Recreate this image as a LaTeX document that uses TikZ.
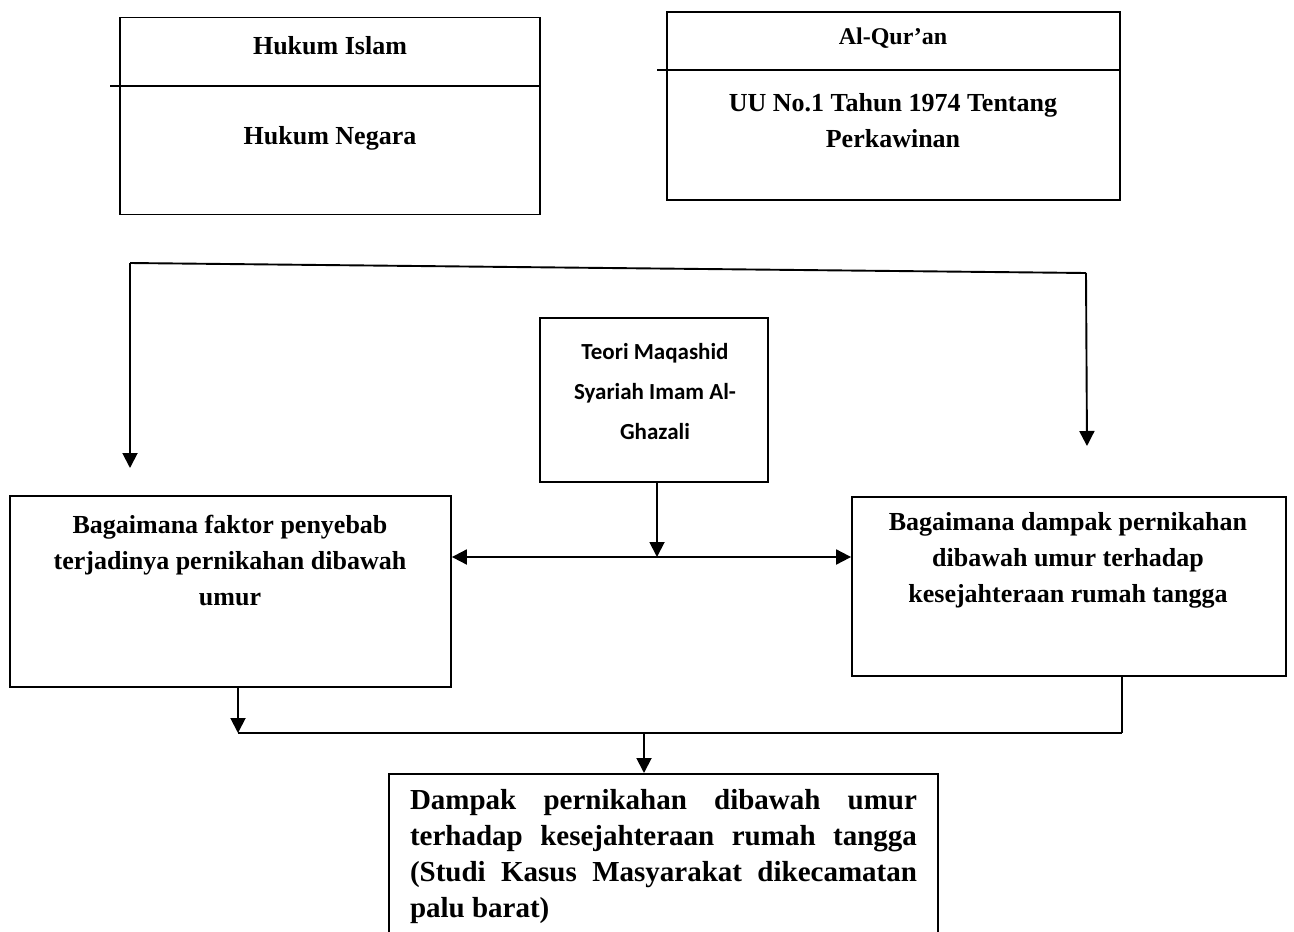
\documentclass[tikz,border=0pt]{standalone}
\usepackage{fontspec}
\setmainfont{Liberation Serif}
\newfontfamily\calibrifont{Carlito}
\usetikzlibrary{arrows.meta}
\begin{document}
\begin{tikzpicture}[x=1pt,y=-1pt,line width=1.8pt,
  >={Triangle[width=15pt,length=15pt]},
  boxx/.style={draw,rectangle,inner sep=0pt},
  txt/.style={inner sep=0pt,align=center,font=\bfseries\fontsize{26}{36}\selectfont},
  conn/.style={line width=1.9pt}]
\useasboundingbox (0,0) rectangle (1294,932);
% top boxes
\node[boxx,minimum width=420pt,minimum height=197pt] (b1) at (330,116) {};
\node[boxx,minimum width=453pt,minimum height=188pt] (b2) at (893.5,106) {};
\coordinate (d1l) at (110,86);
\coordinate (d2l) at (657,70);
\draw (d1l) -- (d1l -| b1.east);
\draw (d2l) -- (d2l -| b2.east);
\node[txt] (t1) at (330,46) {Hukum Islam};
\node[txt] (t2) at (330,138) {Hukum Negara};
\node[txt,font=\bfseries\fontsize{24}{30}\selectfont] (t3) at (893,38) {Al-Qur’an};
\node[txt] (t4) at (893,121) {UU No.1 Tahun 1974 Tentang\\Perkawinan};
% Teori box
\node[boxx,minimum width=228pt,minimum height=164pt] (teori) at (654,400) {};
\node[inner sep=0pt,align=center,font=\calibrifont\bfseries\fontsize{23}{40}\selectfont] (tt) at (655,392) {Teori Maqashid\\Syariah Imam Al-\\Ghazali};
% middle boxes
\node[boxx,minimum width=441pt,minimum height=191pt] (lb) at (230.5,591.5) {};
\node[txt] (lt) at (230,560) {Bagaimana faktor penyebab\\terjadinya pernikahan dibawah\\umur};
\node[boxx,minimum width=434pt,minimum height=179pt] (rb) at (1069,586.5) {};
\node[txt] (rt) at (1068,560) {Bagaimana dampak pernikahan\\dibawah umur terhadap\\kesejahteraan rumah tangga};
% bottom box
\node[boxx,minimum width=549pt,minimum height=180pt,anchor=north] (bb) at (663.5,773) {};
\node[inner sep=0pt,text width=507pt,align=justify,font=\bfseries\fontsize{29}{36}\selectfont] (bt) at (663.5,857) {Dampak pernikahan dibawah umur\linebreak terhadap kesejahteraan rumah tangga\linebreak (Studi Kasus Masyarakat dikecamatan\linebreak palu barat)};
% top connector
\coordinate (tl) at (128,263);
\coordinate (tr) at (1086,273);
\coordinate (al) at (130,468);
\coordinate (ar) at (1087,446);
\draw[conn] (al |- tl) -- (tr);
\draw[conn,->] (al |- tl) -- (al);
\draw[conn,->] (tr) -- (ar);
% middle connectors
\coordinate (mid) at (657,557);
\draw[conn,->] (mid |- teori.south) -- (mid);
\draw[conn,<->] (lb.east |- mid) -- (rb.west |- mid);
% bottom connectors
\coordinate (jl) at (238,733);
\coordinate (jr) at (1122,733);
\coordinate (jm) at (644,733);
\draw[conn] (jl) -- (jr);
\draw[conn,->] (jl |- lb.south) -- (jl);
\draw[conn] (jr |- rb.south) -- (jr);
\draw[conn,->] (jm) -- (jm |- bb.north);
\end{tikzpicture}
\end{document}
